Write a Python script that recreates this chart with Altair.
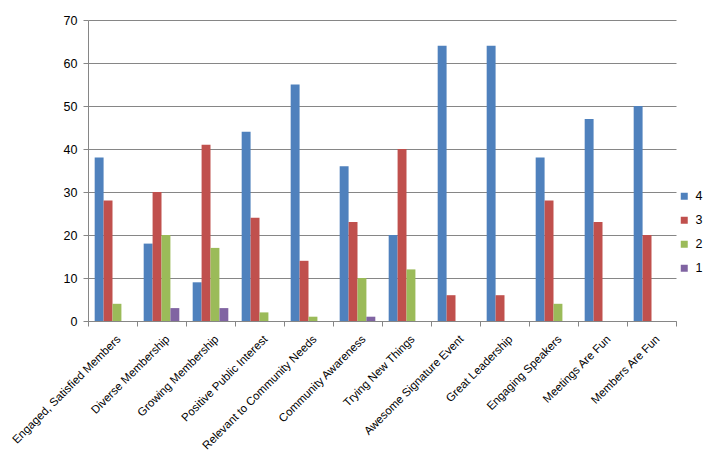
import altair as alt
import pandas as pd

categories = [
    "Engaged, Satisfied Members", "Diverse Membership", "Growing Membership",
    "Positive Public Interest", "Relevant to Community Needs", "Community Awareness",
    "Trying New Things", "Awesome Signature Event", "Great Leadership",
    "Engaging Speakers", "Meetings Are Fun", "Members Are Fun",
]
series_names = ["4", "3", "2", "1"]
s4 = [38, 18, 9, 44, 55, 36, 20, 64, 64, 38, 47, 50]
s3 = [28, 30, 41, 24, 14, 23, 40, 6, 6, 28, 23, 20]
s2 = [4, 20, 17, 2, 1, 10, 12, 0, 0, 4, 0, 0]
s1 = [0, 3, 3, 0, 0, 1, 0, 0, 0, 0, 0, 0]
colors = ["#4F81BD", "#C0504D", "#9BBB59", "#8064A2"]

rows = []
for name, vals in zip(series_names, [s4, s3, s2, s1]):
    for c, v in zip(categories, vals):
        rows.append({"category": c, "series": name, "value": v})
df = pd.DataFrame(rows)

FONT = "Liberation Sans"
GREY = "#868686"

chart = alt.Chart(df).mark_bar().encode(
    x=alt.X("category:N", sort=categories, title=None,
            scale=alt.Scale(paddingInner=0, paddingOuter=0),
            axis=alt.Axis(labelAngle=-45, labelAlign="right", labelBaseline="top",
                          tickBand="extent", tickSize=5, tickColor=GREY,
                          domainColor=GREY, labelColor="black", labelFontSize=11.5,
                          labelFont=FONT, labelPadding=7, labelOffset=2,
                          labelOverlap=False, labelLimit=0)),
    xOffset=alt.XOffset("series:N", sort=series_names,
                        scale=alt.Scale(paddingOuter=0.75, paddingInner=0)),
    y=alt.Y("value:Q", title=None,
            scale=alt.Scale(domain=[0, 70], nice=False),
            axis=alt.Axis(values=[0, 10, 20, 30, 40, 50, 60, 70], tickSize=5,
                          tickColor=GREY, domainColor=GREY, gridColor=GREY,
                          labelColor="black", labelFontSize=12.5, labelFont=FONT,
                          labelPadding=6)),
    color=alt.Color("series:N", sort=series_names,
                    scale=alt.Scale(domain=series_names, range=colors),
                    legend=alt.Legend(title=None, orient="none", legendX=590, legendY=170,
                                      symbolType="square", symbolSize=49,
                                      symbolStrokeWidth=0, labelFontSize=12.5,
                                      labelFont=FONT, rowPadding=11, labelOffset=5)),
).properties(
    width=588, height=301,
    autosize=alt.AutoSizeParams(type="none"),
    padding={"left": 80, "top": 12, "right": 30, "bottom": 134},
).configure_view(stroke=None).configure_axis(grid=False).configure_axisY(grid=True)

chart.save("out.html", embed_options={"renderer": "svg", "actions": False})
